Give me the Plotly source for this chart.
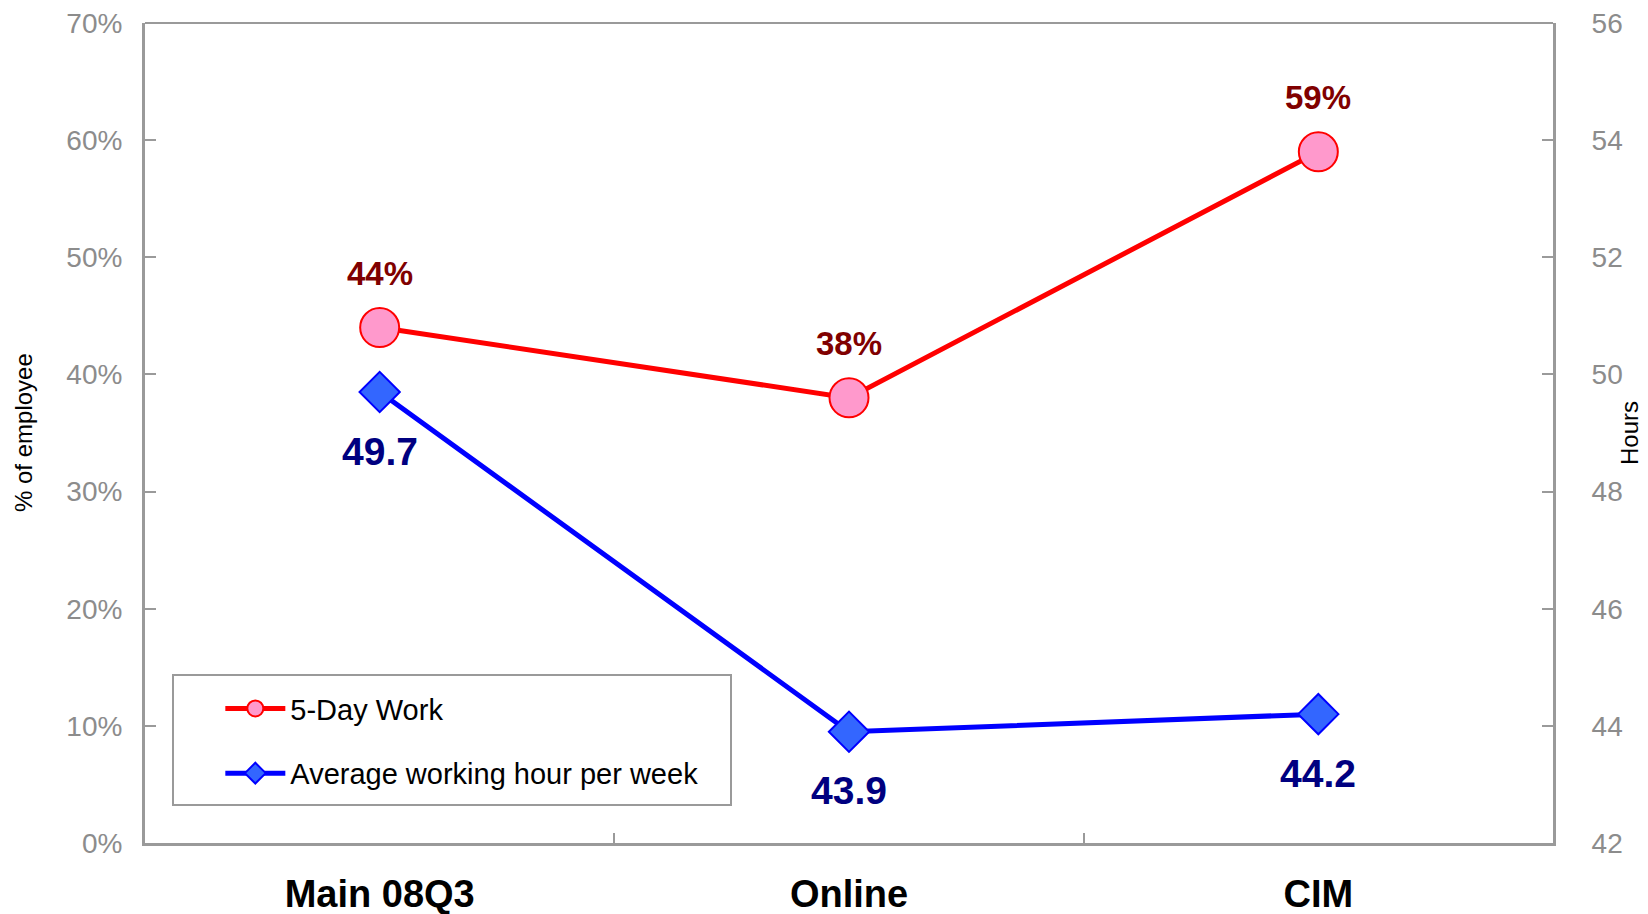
import plotly.graph_objects as go

categories = ["Main 08Q3", "Online", "CIM"]
five_day_pct = [0.44, 0.38, 0.59]
avg_hours = [49.7, 43.9, 44.2]
five_day_labels = ["44%", "38%", "59%"]
hour_labels = ["49.7", "43.9", "44.2"]
pct_ticks = [0, 0.1, 0.2, 0.3, 0.4, 0.5, 0.6, 0.7]
hour_ticks = [42, 44, 46, 48, 50, 52, 54, 56]

FONT = "Liberation Sans, Arial, sans-serif"
AXIS_GRAY = "#9a9a9a"
TICK_GRAY = "#8c8c8c"

fig = go.Figure()
fig.add_trace(go.Scatter(
    x=categories, y=five_day_pct, name="5-Day Work", mode="lines+markers",
    line=dict(color="#ff0000", width=5),
    marker=dict(symbol="circle", size=39, color="#ff99cc", line=dict(color="#ff0000", width=2)),
    legendgroup="a", yaxis="y",
))
fig.add_trace(go.Scatter(
    x=categories, y=avg_hours, name="Average working hour per week", mode="lines+markers",
    line=dict(color="#0000ff", width=5),
    marker=dict(symbol="diamond", size=31, color="#3366ff", line=dict(color="#0000ff", width=2)),
    legendgroup="b", yaxis="y2",
))

annotations = []
for c, v, t in zip(categories, five_day_pct, five_day_labels):
    annotations.append(dict(x=c, y=v, xref="x", yref="y", text=t, showarrow=False,
                            yshift=54, font=dict(family=FONT, size=33, color="#800000", weight="bold")))
for c, v, t in zip(categories, avg_hours, hour_labels):
    annotations.append(dict(x=c, y=v, xref="x", yref="y2", text=t, showarrow=False,
                            yshift=-59, font=dict(family=FONT, size=39, color="#000080", weight="bold")))
# axis titles
annotations.append(dict(x=0, y=0.5, xref="paper", yref="paper", xshift=-122, text="% of employee",
                        textangle=-90, showarrow=False, xanchor="center", yanchor="middle",
                        font=dict(family=FONT, size=24, color="black")))
annotations.append(dict(x=1, y=0.5, xref="paper", yref="paper", xshift=76, text="Hours",
                        textangle=-90, showarrow=False, xanchor="center", yanchor="middle",
                        font=dict(family=FONT, size=24, color="black")))

fig.update_layout(
    width=1640, height=906,
    margin=dict(l=137, r=95, t=15, b=71, autoexpand=False),
    paper_bgcolor="white", plot_bgcolor="white",
    font=dict(family=FONT, color="black"),
    showlegend=True,
    legend=dict(x=0.0535, y=0.195, xanchor="left", yanchor="top",
                bgcolor="rgba(0,0,0,0)", borderwidth=0,
                font=dict(family=FONT, size=29, color="black"),
                traceorder="grouped", tracegroupgap=24, itemwidth=60),
    xaxis=dict(
        range=[-0.5, 2.5], showline=True, linecolor=AXIS_GRAY, linewidth=3, mirror=False,
        ticks="inside", tickson="boundaries", ticklen=10, tickwidth=2, tickcolor=AXIS_GRAY,
        tickfont=dict(family=FONT, size=38, color="black", weight="bold"),
        ticklabelstandoff=15, ticklabeloverflow="allow",
        showgrid=False, zeroline=False, automargin=False,
    ),
    yaxis=dict(
        range=[0, 0.7], tickvals=pct_ticks, tickformat=".0%",
        showline=True, linecolor=AXIS_GRAY, linewidth=3,
        ticks="inside", ticklen=11, tickwidth=2, tickcolor=AXIS_GRAY,
        tickfont=dict(family=FONT, size=28, color=TICK_GRAY),
        ticklabelstandoff=14, ticklabeloverflow="allow",
        showgrid=False, zeroline=False, automargin=False,
    ),
    yaxis2=dict(
        range=[42, 56], tickvals=hour_ticks, overlaying="y", side="right",
        showline=True, linecolor=AXIS_GRAY, linewidth=3,
        ticks="inside", ticklen=11, tickwidth=2, tickcolor=AXIS_GRAY,
        tickfont=dict(family=FONT, size=28, color=TICK_GRAY),
        ticklabelstandoff=30, ticklabeloverflow="allow",
        showgrid=False, zeroline=False, automargin=False,
    ),
    annotations=annotations,
    shapes=[
        dict(type="line", xref="paper", yref="paper", x0=0, x1=1, y0=1, y1=1,
             line=dict(color=AXIS_GRAY, width=2)),
        dict(type="rect", xref="paper", yref="paper",
             x0=(173 - 145) / 1408, x1=(731 - 145) / 1408,
             y0=(843 - 805) / 820, y1=(843 - 675) / 820,
             line=dict(color=AXIS_GRAY, width=2), fillcolor="rgba(0,0,0,0)", layer="below"),
    ],
)

fig.write_html("out.html")
